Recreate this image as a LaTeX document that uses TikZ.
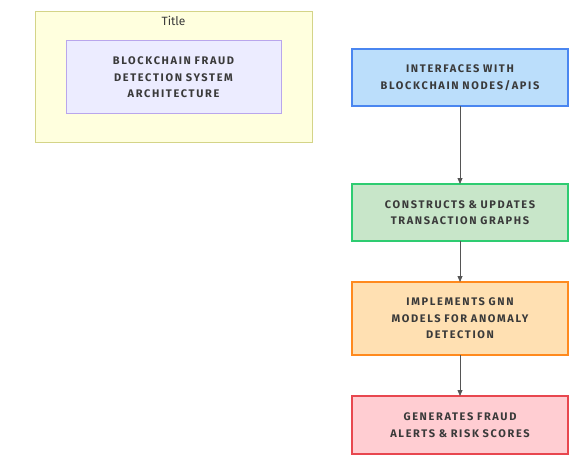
\documentclass[tikz,border=0pt]{standalone}
\usepackage{fontspec}
\setmainfont{Fira Sans}
\newfontfamily\capsfont{Fira Sans}[LetterSpace=15]
\newcommand\capsspacing{\spaceskip=6.5pt plus 1pt\relax}
\usepackage{tikz}
\usetikzlibrary{arrows.meta, positioning}
\definecolor{textgrey}{HTML}{3A3A3A}
\definecolor{linegrey}{HTML}{555555}
\definecolor{titlefill}{HTML}{FFFFDE}
\definecolor{titledraw}{HTML}{D4D488}
\definecolor{headfill}{HTML}{ECECFF}
\definecolor{headdraw}{HTML}{B9A6EC}
\definecolor{ifacefill}{HTML}{BBDEFB}
\definecolor{ifacedraw}{HTML}{4A86F0}
\definecolor{graphfill}{HTML}{C8E6C9}
\definecolor{graphdraw}{HTML}{2ECC71}
\definecolor{gnnfill}{HTML}{FFE0B2}
\definecolor{gnndraw}{HTML}{FF8A1E}
\definecolor{alertfill}{HTML}{FFCDD2}
\definecolor{alertdraw}{HTML}{E8474F}
\tikzstyle{stage} = [
  rectangle, line width=1.5pt, inner sep=0pt, outer sep=0pt,
  minimum width=216pt, text width=212pt, align=center,
  font=\capsfont\fontsize{11}{16.5}\selectfont\bfseries\capsspacing,
  text=textgrey
]
\tikzstyle{arrow} = [-{Triangle[length=6pt, width=5pt]}, draw=linegrey, fill=textgrey, line width=0.8pt]

\begin{document}
\begin{tikzpicture}[x=1pt, y=-1pt]
  \useasboundingbox (0,0) rectangle (588,457);

  \node[rectangle, fill=titlefill, draw=titledraw, line width=1pt, minimum width=277pt, minimum height=131pt] (frame) at (173.5, 77.5) {};
  \node[font=\fontsize{12}{14}\selectfont, text=textgrey] (title) at (173.5, 21) {Title};
  \node[stage, fill=headfill, draw=headdraw, line width=1pt, minimum width=215pt, minimum height=73pt] (head) at (173.5, 77.5) {BLOCKCHAIN FRAUD\\DETECTION SYSTEM\\ARCHITECTURE};

  \node[stage, fill=ifacefill, draw=ifacedraw, minimum height=57pt] (iface) at (460, 77.5) {INTERFACES WITH\\BLOCKCHAIN NODES/APIS};
  \node[stage, fill=graphfill, draw=graphdraw, minimum height=57pt] (graph) at (460, 212.5) {CONSTRUCTS \& UPDATES\\TRANSACTION GRAPHS};
  \node[stage, fill=gnnfill, draw=gnndraw, minimum height=73pt] (gnn) at (460, 318.5) {IMPLEMENTS GNN\\MODELS FOR ANOMALY\\DETECTION};
  \node[stage, fill=alertfill, draw=alertdraw, minimum height=58pt] (alert) at (460, 425) {GENERATES FRAUD\\ALERTS \& RISK SCORES};

  \draw[arrow] (iface) -- (graph);
  \draw[arrow] (graph) -- (gnn);
  \draw[arrow] (gnn) -- (alert);

\end{tikzpicture}
\end{document}
